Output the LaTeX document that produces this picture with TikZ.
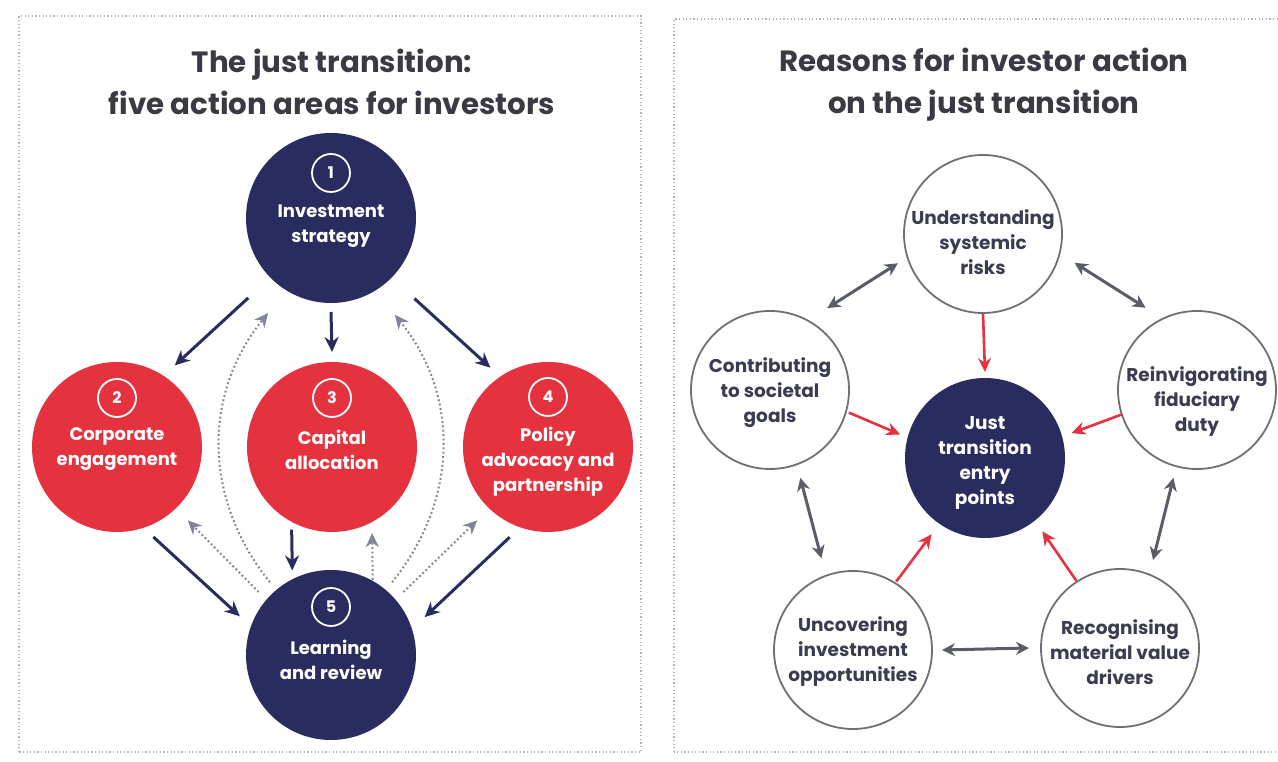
\documentclass[tikz,border=0pt]{standalone}
\usepackage{fontspec}
\setmainfont{Poppins}
\usetikzlibrary{arrows.meta,calc}
\definecolor{navy}{RGB}{42,43,94}
\definecolor{jred}{RGB}{229,50,63}
\definecolor{titlegrey}{RGB}{58,58,68}
\definecolor{dotgrey}{RGB}{128,132,148}
\definecolor{arrgrey}{RGB}{90,92,102}
\definecolor{framegrey}{RGB}{178,178,186}
\definecolor{ringline}{RGB}{112,112,116}
\definecolor{rtext}{RGB}{60,60,80}
\begin{document}
\begin{tikzpicture}[x=1pt,y=1pt,
  navyball/.style={circle,fill=navy,minimum size=170pt,inner sep=0pt},
  redball/.style={circle,fill=jred,minimum size=170pt,inner sep=0pt},
  numring/.style={circle,draw=white,line width=1.8pt,minimum size=38pt,inner sep=0pt,text=white,font=\bfseries\fontsize{16}{16}\selectfont},
  balltext/.style={text=white,align=center,font=\bfseries\fontsize{18}{25}\selectfont},
  whiteball/.style={circle,draw=ringline,line width=1.8pt,fill=white,minimum size=158pt,inner sep=0pt},
  rball/.style={circle,fill=navy,minimum size=160pt,inner sep=0pt},
  rtextstyle/.style={text=rtext,align=center,font=\bfseries\fontsize{18.5}{25}\selectfont},
  ctextstyle/.style={text=white,align=center,font=\bfseries\fontsize{18.5}{25}\selectfont},
  titlestyle/.style={text=titlegrey,align=center,font=\bfseries\fontsize{29.3}{42}\selectfont},
  frame/.style={draw=framegrey,line width=1.6pt,dash pattern=on 1.2pt off 2.4pt},
  solidarrow/.style={draw=navy,line width=3pt,-{Stealth[length=15pt,width=14pt]}},
  dotarrow/.style={draw=dotgrey,line width=2pt,dash pattern=on 1.8pt off 2.6pt,-{Stealth[length=14pt,width=13pt]}},
  dblarrow/.style={draw=arrgrey,line width=3pt,{Stealth[length=13pt,width=13pt]}-{Stealth[length=13pt,width=13pt]}},
  redarrow/.style={draw=jred,line width=2.6pt,-{Stealth[length=14pt,width=13pt]}}
]
\useasboundingbox (0,0) rectangle (1278,762);
\fill[white] (0,0) rectangle (1278,762);

% frames
\draw[frame] (19,10) rectangle (641,746);
\draw[frame] (674,10) rectangle (1295,743);

% ---------- left panel ----------
\node[titlestyle] (ltitle) at (332,680) {The just transition:\\five action areas for investors};

\node[navyball] (c1) at (331,544) {};
\node[redball]  (c2) at (117,315) {};
\node[redball]  (c3) at (332,315) {};
\node[redball]  (c4) at (548,315) {};
\node[navyball] (c5) at (331,107) {};

\node[numring] (n1) at ($(c1)+(0,45)$) {1};
\node[balltext] (t1) at ($(c1)+(0,-8.5)$) {Investment\\strategy};
\node[numring] (n2) at ($(c2)+(0,49)$) {2};
\node[balltext] (t2) at ($(c2)+(0,-2.5)$) {Corporate\\engagement};
\node[numring] (n3) at ($(c3)+(0,49)$) {3};
\node[balltext] (t3) at ($(c3)+(0,-2.5)$) {Capital\\allocation};
\node[numring] (n4) at ($(c4)+(0,50)$) {4};
\node[balltext] (t4) at ($(c4)+(0,-15)$) {Policy\\advocacy and\\partnership};
\node[numring] (n5) at ($(c5)+(0,48)$) {5};
\node[balltext] (t5) at ($(c5)+(0,-4.5)$) {Learning\\and review};

% solid arrows
\draw[solidarrow] ($(c1)+(224:115)$) -- ($(c2)+(54.7:100)$);
\draw[solidarrow] ($(c1)+(270:94)$) -- ($(c3)+(90:95)$);
\draw[solidarrow] ($(c1)+(316:116)$) -- ($(c4)+(126:98)$);
\draw[solidarrow] ($(c2)+(292:97)$) -- ($(c5)+(157:99)$);
\draw[solidarrow] ($(c3)+(244:92)$) -- ($(c5)+(114.6:93)$);
\draw[solidarrow] ($(c4)+(247:98)$) -- ($(c5)+(22:101)$);

% dotted arrows
\draw[dotarrow] ($(c5)+(61:86)$) -- ($(c3)+(295:95)$);
\draw[dotarrow] ($(c5)+(139:96)$) -- ($(c2)+(314:102)$);
\draw[dotarrow] ($(c5)+(41:96)$) -- ($(c4)+(226:102)$);
\draw[dotarrow] ($(c5)+(130:95)$) to[out=129,in=231] ($(c1)+(236.5:114)$);
\draw[dotarrow] ($(c5)+(50:95)$) to[out=51,in=309] ($(c1)+(303.4:116)$);

% ---------- right panel ----------
\node[titlestyle] (rtitle) at (984,677) {Reasons for investor action\\on the just transition};

\node[whiteball] (r1) at (983,528) {};
\node[whiteball] (r2) at (770,372) {};
\node[whiteball] (r3) at (1197,372) {};
\node[whiteball] (r4) at (853,112) {};
\node[whiteball] (r5) at (1120,114) {};
\node[rball]     (rc) at (985,304) {};

\node[rtextstyle] (s1) at ($(r1)+(0,-8)$) {Understanding\\systemic\\risks};
\node[rtextstyle] (s2) at ($(r2)+(0,-3)$) {Contributing\\to societal\\goals};
\node[rtextstyle] (s3) at ($(r3)+(0,-12)$) {Reinvigorating\\fiduciary\\duty};
\node[rtextstyle] (s4) at ($(r4)+(0,-2)$) {Uncovering\\investment\\opportunities};
\node[rtextstyle] (s5) at ($(r5)+(0,-4)$) {Recognising\\material value\\drivers};
\node[ctextstyle] (sc) at ($(rc)+(0,-4.5)$) {Just\\transition\\entry\\points};

% grey double arrows
\draw[dblarrow] ($(r2)+(55:100)$) -- ($(r1)+(199:90)$);
\draw[dblarrow] ($(r1)+(342.5:96)$) -- ($(r3)+(122:97)$);
\draw[dblarrow] ($(r2)+(289:93)$) -- ($(r4)+(109:97)$);
\draw[dblarrow] ($(r3)+(255:91)$) -- ($(r5)+(69.4:94)$);
\draw[dblarrow] ($(r4)+(0:89)$) -- ($(r5)+(180:91)$);

% red arrows
\draw[redarrow] ($(r1)+(270:80)$) -- ($(rc)+(90:86)$);
\draw[redarrow] ($(r2)+(344:82)$) -- ($(rc)+(164.5:88)$);
\draw[redarrow] ($(r3)+(198:79)$) -- ($(rc)+(16:90)$);
\draw[redarrow] ($(r4)+(57.7:81)$) -- ($(rc)+(235:93)$);
\draw[redarrow] ($(r5)+(123:80)$) -- ($(rc)+(308:93)$);
\end{tikzpicture}
\end{document}
